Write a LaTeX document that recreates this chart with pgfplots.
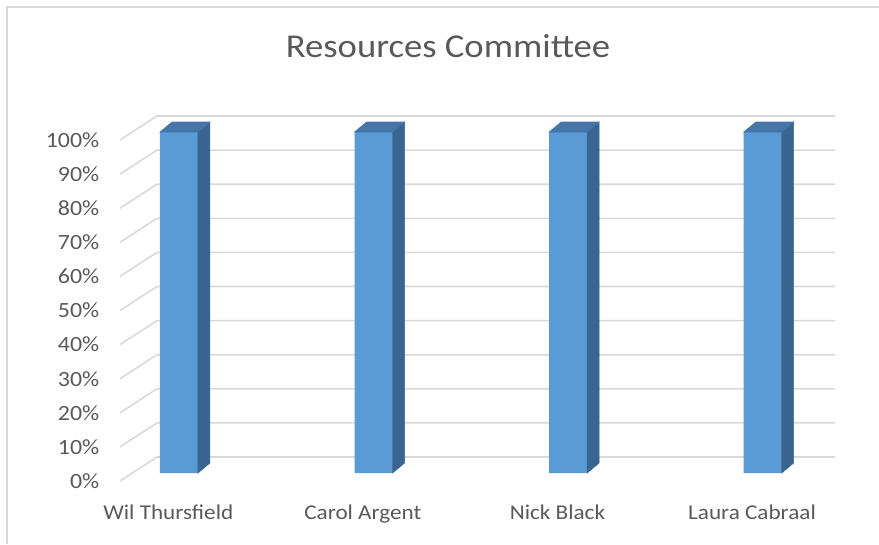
\documentclass[border=0pt]{standalone}
\usepackage{fontspec}
\setmainfont{Carlito}[FakeStretch=1.1]
\usepackage{pgfplots}
\pgfplotsset{compat=1.18}
\definecolor{barfront}{HTML}{5B9BD5}
\definecolor{bartop}{HTML}{4676A8}
\definecolor{barside}{HTML}{3A6590}
\definecolor{gridc}{HTML}{D9D9D9}
\definecolor{txt}{HTML}{595959}
\pgfdeclareplotmark{empty}{}

\begin{document}
\begin{tikzpicture}
% page = 879 x 544 px, 1px = 0.75pt
\path[use as bounding box] (0,0) rectangle (659.25pt,408pt);
\draw[gridc, line width=1.5pt] (5.25pt,0) -- (5.25pt,402.75pt) -- (659.25pt,402.75pt);
\node[anchor=base, text=txt, font=\fontsize{25}{27}\selectfont] at (336pt,364.5pt) {Resources Committee};

\begin{axis}[
  at={(90pt,53.25pt)}, anchor=south west,
  scale only axis, width=555pt, height=255.75pt,
  xmin=-0.303, xmax=3.5, ymin=0, ymax=100,
  clip=false,
  axis line style={draw=none}, tick style={draw=none}, major tick length=0pt,
  /pgf/number format/assume math mode=true,
  ytick={0,10,...,100},
  yticklabels={0\%,10\%,20\%,30\%,40\%,50\%,60\%,70\%,80\%,90\%,100\%},
  yticklabel style={font=\fontsize{16.3}{18}\selectfont, text=txt, anchor=east, xshift=-12pt, yshift=-6pt},
  xtick={0,1,2,3},
  xticklabels={Wil Thursfield, Carol Argent, Nick Black, Laura Cabraal},
  xticklabel style={font=\fontsize{15.8}{18}\selectfont, text=txt, xshift=-8pt, yshift=-20pt},
]
% perspective gridlines: floor edge then back wall
\pgfplotsinvokeforeach{0,10,...,100}{
  \draw[gridc, line width=1.2pt] ([yshift=-6pt]axis cs:-0.303,#1) -- ++(27.75pt,18pt) -- ++(508.5pt,0pt);
}
% front faces
\addplot[ybar, bar width=28.5pt, fill=barfront, draw=none]
  coordinates {(0,100) (1,100) (2,100) (3,100)};
% top and side faces of the 3-D bars
\addplot[scatter, only marks, mark=empty,
  visualization depends on={rawy \as \rawy},
  scatter/@pre marker code/.code={%
    \pgfmathsetmacro\barh{\rawy*2.5575}%
    \fill[barside] (14.25pt,0pt) -- (23.25pt,7.5pt) -- (23.25pt,7.5pt-\barh pt) -- (14.25pt,-\barh pt) -- cycle;
    \fill[bartop] (-14.25pt,0pt) -- (-5.25pt,7.5pt) -- (23.25pt,7.5pt) -- (14.25pt,0pt) -- cycle;
  },
  scatter/@post marker code/.code={},
] coordinates {(0,100) (1,100) (2,100) (3,100)};
\end{axis}
\end{tikzpicture}
\end{document}
